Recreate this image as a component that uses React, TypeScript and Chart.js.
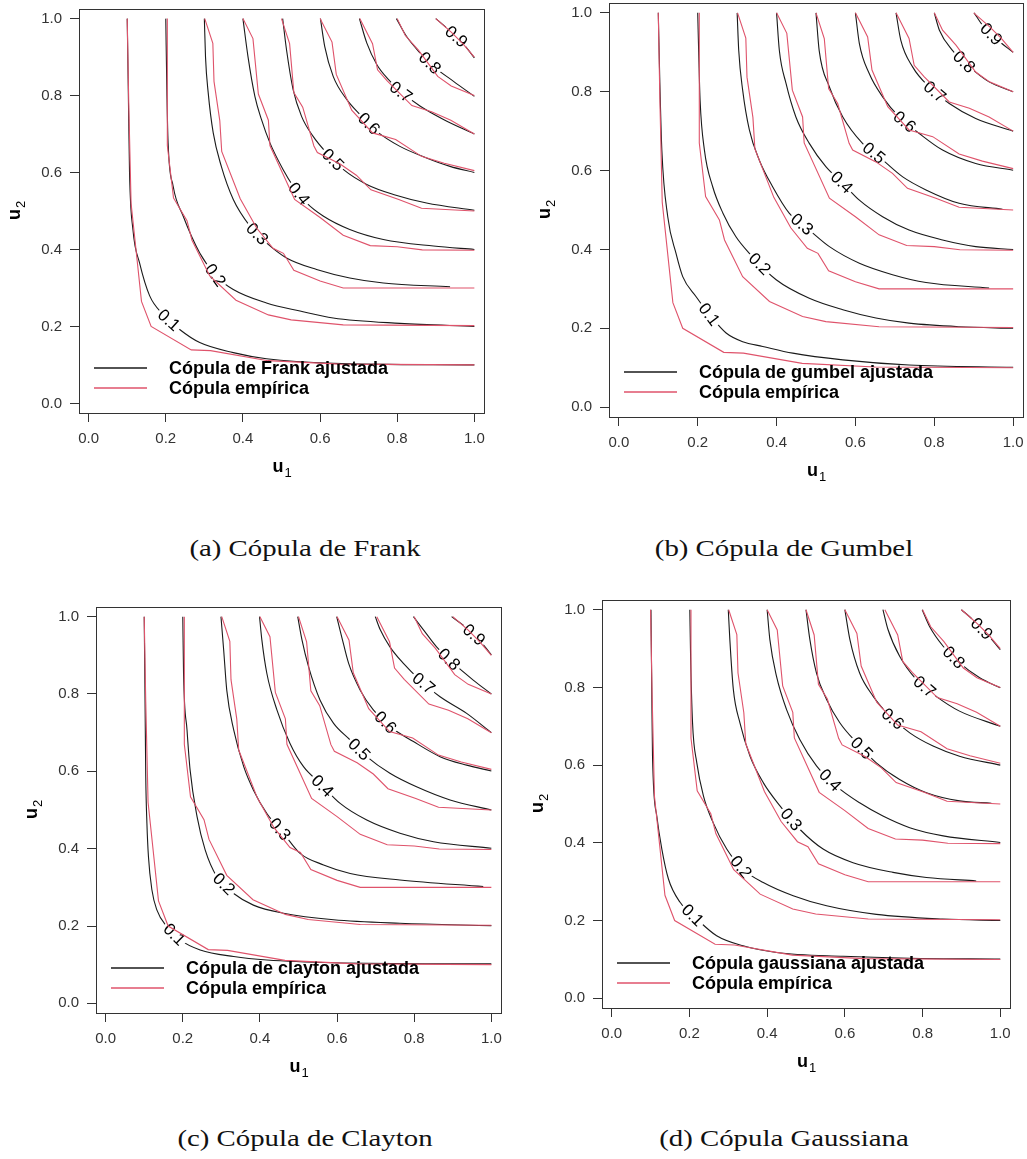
import React, { useEffect, useRef } from "react";
import { Chart, registerables } from "chart.js";

Chart.register(...registerables);

// ---------- data ----------
const levelLabels = ["0.1", "0.2", "0.3", "0.4", "0.5", "0.6", "0.7", "0.8", "0.9"];
const tickValues = [0, 0.2, 0.4, 0.6, 0.8, 1.0];
const tickLabels = ["0.0", "0.2", "0.4", "0.6", "0.8", "1.0"];

// empirical copula contours (same sample in all four panels)
const empiricalCurves = [
  [[0.1, 1.0], [0.104, 0.78], [0.11, 0.52], [0.137, 0.265], [0.162, 0.2], [0.266, 0.139], [0.316, 0.137], [0.465, 0.111], [0.65, 0.102], [1.0, 0.1]],
  [[0.204, 1.0], [0.204, 0.67], [0.22, 0.534], [0.255, 0.475], [0.268, 0.424], [0.314, 0.331], [0.382, 0.268], [0.466, 0.23], [0.525, 0.217], [0.66, 0.204], [1.0, 0.202]],
  [[0.301, 1.0], [0.322, 0.936], [0.325, 0.837], [0.34, 0.735], [0.345, 0.655], [0.393, 0.532], [0.436, 0.455], [0.478, 0.403], [0.505, 0.39], [0.532, 0.346], [0.6, 0.318], [0.66, 0.3], [1.0, 0.3]],
  [[0.4, 1.0], [0.426, 0.948], [0.44, 0.804], [0.466, 0.736], [0.47, 0.67], [0.534, 0.53], [0.6, 0.483], [0.66, 0.437], [0.73, 0.41], [0.8, 0.407], [0.865, 0.399], [1.0, 0.398]],
  [[0.5, 1.0], [0.521, 0.935], [0.532, 0.808], [0.555, 0.77], [0.584, 0.669], [0.593, 0.652], [0.652, 0.622], [0.694, 0.593], [0.732, 0.555], [0.804, 0.53], [0.863, 0.507], [1.0, 0.5]],
  [[0.6, 1.0], [0.631, 0.939], [0.642, 0.855], [0.682, 0.762], [0.736, 0.703], [0.796, 0.686], [0.863, 0.642], [0.922, 0.624], [1.0, 0.605]],
  [[0.703, 1.0], [0.736, 0.935], [0.749, 0.867], [0.774, 0.838], [0.838, 0.774], [0.889, 0.758], [0.939, 0.736], [1.0, 0.7]],
  [[0.8, 1.0], [0.821, 0.956], [0.855, 0.918], [0.905, 0.85], [0.94, 0.825], [1.0, 0.8]],
  [[0.9, 1.0], [0.94, 0.965], [0.97, 0.935], [1.0, 0.9]],
];

const frankCurves = [
  [[0.1, 1.0], [0.103, 0.8], [0.106, 0.6], [0.115, 0.45], [0.132, 0.365], [0.158, 0.28], [0.193, 0.231], [0.236, 0.192], [0.288, 0.158], [0.375, 0.132], [0.461, 0.116], [0.634, 0.104], [1.0, 0.1]],
  [[0.2, 1.0], [0.203, 0.8], [0.206, 0.677], [0.219, 0.565], [0.245, 0.487], [0.288, 0.391], [0.331, 0.331], [0.375, 0.296], [0.461, 0.261], [0.548, 0.24], [0.634, 0.222], [0.807, 0.208], [1.0, 0.2]],
  [[0.3, 1.0], [0.303, 0.9], [0.31, 0.807], [0.323, 0.703], [0.344, 0.616], [0.375, 0.53], [0.418, 0.461], [0.461, 0.417], [0.513, 0.378], [0.591, 0.348], [0.677, 0.326], [0.764, 0.313], [0.937, 0.303]],
  [[0.4, 1.0], [0.413, 0.902], [0.431, 0.798], [0.448, 0.738], [0.47, 0.677], [0.504, 0.608], [0.53, 0.565], [0.565, 0.521], [0.608, 0.487], [0.677, 0.452], [0.764, 0.426], [0.894, 0.409], [1.0, 0.4]],
  [[0.503, 1.0], [0.513, 0.919], [0.53, 0.816], [0.552, 0.746], [0.582, 0.694], [0.617, 0.651], [0.66, 0.608], [0.721, 0.569], [0.79, 0.543], [0.876, 0.521], [1.0, 0.502]],
  [[0.601, 1.0], [0.612, 0.928], [0.634, 0.85], [0.669, 0.79], [0.703, 0.751], [0.747, 0.707], [0.807, 0.668], [0.876, 0.638], [0.937, 0.616], [1.0, 0.6]],
  [[0.702, 1.0], [0.721, 0.937], [0.747, 0.881], [0.777, 0.842], [0.807, 0.812], [0.859, 0.773], [0.92, 0.738], [1.0, 0.7]],
  [[0.798, 1.0], [0.824, 0.954], [0.859, 0.911], [0.894, 0.876], [0.946, 0.837], [1.0, 0.798]],
  [[0.9, 1.0], [0.928, 0.976], [0.963, 0.945], [1.0, 0.898]],
];

const gumbelCurves = [
  [[0.1, 1.0], [0.104, 0.82], [0.109, 0.652], [0.124, 0.483], [0.145, 0.39], [0.162, 0.331], [0.196, 0.28], [0.232, 0.232], [0.272, 0.188], [0.314, 0.166], [0.365, 0.154], [0.441, 0.137], [0.568, 0.12], [0.736, 0.107], [1.0, 0.101]],
  [[0.2, 1.0], [0.203, 0.88], [0.206, 0.779], [0.217, 0.652], [0.238, 0.559], [0.264, 0.492], [0.297, 0.432], [0.331, 0.39], [0.399, 0.323], [0.483, 0.276], [0.568, 0.247], [0.652, 0.226], [0.736, 0.213], [0.863, 0.204], [1.0, 0.2]],
  [[0.3, 1.0], [0.304, 0.905], [0.314, 0.804], [0.331, 0.703], [0.356, 0.627], [0.39, 0.559], [0.432, 0.492], [0.483, 0.449], [0.534, 0.407], [0.61, 0.365], [0.694, 0.336], [0.779, 0.316], [0.939, 0.302]],
  [[0.4, 1.0], [0.407, 0.905], [0.424, 0.821], [0.449, 0.736], [0.483, 0.669], [0.525, 0.61], [0.568, 0.568], [0.61, 0.525], [0.669, 0.483], [0.736, 0.449], [0.821, 0.424], [0.905, 0.407], [1.0, 0.4]],
  [[0.5, 1.0], [0.508, 0.905], [0.534, 0.812], [0.568, 0.736], [0.618, 0.669], [0.669, 0.627], [0.72, 0.584], [0.779, 0.551], [0.863, 0.517], [0.973, 0.502]],
  [[0.6, 1.0], [0.61, 0.922], [0.635, 0.846], [0.669, 0.787], [0.711, 0.736], [0.762, 0.694], [0.821, 0.652], [0.905, 0.618], [1.0, 0.601]],
  [[0.703, 1.0], [0.715, 0.931], [0.745, 0.863], [0.787, 0.812], [0.838, 0.77], [0.905, 0.732], [1.0, 0.7]],
  [[0.8, 1.0], [0.813, 0.956], [0.846, 0.905], [0.889, 0.863], [0.939, 0.825], [1.0, 0.8]],
  [[0.901, 1.0], [0.922, 0.969], [0.956, 0.935], [1.0, 0.9]],
];

const claytonCurves = [
  [[0.1, 1.0], [0.102, 0.8], [0.104, 0.586], [0.107, 0.466], [0.111, 0.379], [0.12, 0.293], [0.133, 0.241], [0.159, 0.198], [0.193, 0.164], [0.245, 0.138], [0.332, 0.121], [0.418, 0.112], [0.591, 0.105], [1.0, 0.102]],
  [[0.2, 1.0], [0.202, 0.853], [0.211, 0.707], [0.219, 0.603], [0.237, 0.483], [0.258, 0.397], [0.288, 0.328], [0.332, 0.284], [0.383, 0.254], [0.461, 0.233], [0.591, 0.216], [0.763, 0.207], [1.0, 0.201]],
  [[0.299, 1.0], [0.306, 0.914], [0.314, 0.81], [0.332, 0.707], [0.358, 0.612], [0.383, 0.552], [0.418, 0.491], [0.461, 0.44], [0.504, 0.388], [0.565, 0.358], [0.634, 0.336], [0.763, 0.319], [0.979, 0.302]],
  [[0.399, 1.0], [0.405, 0.94], [0.418, 0.853], [0.444, 0.759], [0.478, 0.672], [0.513, 0.612], [0.556, 0.569], [0.608, 0.517], [0.677, 0.474], [0.763, 0.44], [0.85, 0.418], [1.0, 0.401]],
  [[0.498, 1.0], [0.509, 0.94], [0.526, 0.871], [0.556, 0.784], [0.591, 0.724], [0.634, 0.681], [0.677, 0.638], [0.737, 0.595], [0.806, 0.56], [0.893, 0.526], [1.0, 0.5]],
  [[0.599, 1.0], [0.612, 0.948], [0.63, 0.879], [0.66, 0.81], [0.694, 0.759], [0.737, 0.716], [0.798, 0.677], [0.867, 0.638], [0.936, 0.616], [1.0, 0.601]],
  [[0.699, 1.0], [0.712, 0.966], [0.737, 0.922], [0.772, 0.879], [0.815, 0.836], [0.867, 0.793], [0.936, 0.75], [1.0, 0.7]],
  [[0.798, 1.0], [0.824, 0.966], [0.858, 0.922], [0.902, 0.879], [0.953, 0.836], [1.0, 0.8]],
  [[0.897, 1.0], [0.927, 0.978], [0.962, 0.948], [1.0, 0.901]],
];

const gaussianCurves = [
  [[0.101, 1.0], [0.103, 0.8], [0.105, 0.623], [0.116, 0.469], [0.129, 0.384], [0.146, 0.307], [0.176, 0.247], [0.219, 0.204], [0.27, 0.161], [0.338, 0.135], [0.424, 0.118], [0.596, 0.108], [0.767, 0.103], [1.0, 0.101]],
  [[0.201, 1.0], [0.203, 0.88], [0.208, 0.709], [0.219, 0.606], [0.236, 0.521], [0.261, 0.452], [0.296, 0.384], [0.338, 0.332], [0.39, 0.298], [0.467, 0.264], [0.553, 0.238], [0.681, 0.216], [0.852, 0.204], [1.0, 0.2]],
  [[0.3, 1.0], [0.304, 0.923], [0.313, 0.795], [0.33, 0.709], [0.356, 0.623], [0.39, 0.555], [0.433, 0.495], [0.484, 0.435], [0.544, 0.384], [0.621, 0.349], [0.724, 0.324], [0.81, 0.311], [0.938, 0.302]],
  [[0.4, 1.0], [0.407, 0.923], [0.424, 0.829], [0.45, 0.743], [0.484, 0.666], [0.527, 0.598], [0.578, 0.546], [0.638, 0.503], [0.698, 0.469], [0.767, 0.439], [0.853, 0.418], [1.0, 0.401]],
  [[0.5, 1.0], [0.51, 0.923], [0.527, 0.837], [0.553, 0.769], [0.587, 0.709], [0.63, 0.658], [0.681, 0.606], [0.741, 0.563], [0.81, 0.529], [0.895, 0.508], [0.977, 0.502]],
  [[0.6, 1.0], [0.613, 0.923], [0.638, 0.837], [0.673, 0.777], [0.716, 0.726], [0.767, 0.683], [0.827, 0.649], [0.895, 0.623], [1.0, 0.6]],
  [[0.698, 1.0], [0.711, 0.949], [0.741, 0.88], [0.784, 0.82], [0.835, 0.777], [0.895, 0.739], [1.0, 0.7]],
  [[0.799, 1.0], [0.818, 0.957], [0.853, 0.906], [0.895, 0.863], [0.947, 0.825], [1.0, 0.799]],
  [[0.9, 1.0], [0.93, 0.974], [0.964, 0.94], [1.0, 0.897]],
];

// where the level labels sit (data coordinates)
const frankLabelAt = [[0.21, 0.218], [0.336, 0.339], [0.439, 0.443], [0.543, 0.543], [0.638, 0.638], [0.729, 0.729], [0.811, 0.811], [0.885, 0.885], [0.954, 0.954]];
const gumbelLabelAt = [[0.238, 0.242], [0.363, 0.369], [0.47, 0.47], [0.563, 0.568], [0.65, 0.648], [0.728, 0.728], [0.808, 0.808], [0.876, 0.876], [0.946, 0.948]];
const claytonLabelAt = [[0.168, 0.168], [0.313, 0.315], [0.444, 0.444], [0.556, 0.556], [0.661, 0.66], [0.749, 0.75], [0.828, 0.832], [0.893, 0.892], [0.958, 0.957]];
const gaussianLabelAt = [[0.212, 0.217], [0.349, 0.351], [0.463, 0.461], [0.56, 0.559], [0.651, 0.651], [0.737, 0.735], [0.817, 0.816], [0.887, 0.884], [0.954, 0.953]];

const fittedLegend = ["Cópula de Frank ajustada", "Cópula de gumbel ajustada", "Cópula de clayton ajustada", "Cópula gaussiana ajustada"];
const empiricalLegend = "Cópula empírica";
const captions = ["(a) Cópula de Frank", "(b) Cópula de Gumbel", "(c) Cópula de Clayton", "(d) Cópula Gaussiana"];

// ---------- layout / style ----------
const SANS = "'Liberation Sans', Arial, Helvetica, sans-serif";
const SERIF = "'Liberation Serif', 'Times New Roman', serif";
const BLACK = "#1a1a1a";
const RED = "#DF536B";
const Y_AXIS_W = 60;
const X_AXIS_H = 40;

type Layout = { ox: number; oy: number; w: number; h: number; l: number; t: number; r: number; b: number; capX: number; capY: number };
const layouts: Layout[] = [
  { ox: 0, oy: 0, w: 510, h: 500, l: 79, t: 9, r: 484, b: 413, capX: 305, capY: 536 },
  { ox: 510, oy: 0, w: 517, h: 500, l: 99, t: 3, r: 513, b: 417, capX: 784, capY: 536 },
  { ox: 0, oy: 590, w: 510, h: 500, l: 96, t: 17, r: 501, b: 423, capX: 305, capY: 1126 },
  { ox: 510, oy: 590, w: 517, h: 500, l: 92, t: 10, r: 500, b: 418, capX: 784, capY: 1126 },
];
const fittedSets = [frankCurves, gumbelCurves, claytonCurves, gaussianCurves];
const labelSets = [frankLabelAt, gumbelLabelAt, claytonLabelAt, gaussianLabelAt];

const toPts = (c: number[][]) => c.map(([x, y]) => ({ x, y }));

function drawSubLabel(ctx: CanvasRenderingContext2D, main: string, sub: string) {
  ctx.font = `bold 18px ${SANS}`;
  const wm = ctx.measureText(main).width;
  ctx.font = `13px ${SANS}`;
  const ws = ctx.measureText(sub).width;
  const x0 = -(wm + ws) / 2;
  ctx.fillStyle = "#000";
  ctx.textAlign = "left";
  ctx.textBaseline = "alphabetic";
  ctx.font = `bold 18px ${SANS}`;
  ctx.fillText(main, x0, 0);
  ctx.font = `13px ${SANS}`;
  ctx.fillText(sub, x0 + wm + 1, 5);
}

function Panel({ idx }: { idx: number }) {
  const ref = useRef<HTMLCanvasElement>(null);
  const L = layouts[idx];
  useEffect(() => {
    if (!ref.current) return;
    const fitted = fittedSets[idx];
    const labelAt = labelSets[idx];
    const datasets: any[] = [];
    empiricalCurves.forEach((c, i) => {
      datasets.push({
        label: empiricalLegend + " " + levelLabels[i],
        data: toPts(c),
        borderColor: RED,
        borderWidth: 1.1,
        pointRadius: 0,
        tension: 0,
        order: 0,
      });
    });
    fitted.forEach((c, i) => {
      datasets.push({
        label: fittedLegend[idx] + " " + levelLabels[i],
        data: toPts(c),
        borderColor: BLACK,
        borderWidth: 1.1,
        pointRadius: 0,
        cubicInterpolationMode: "monotone",
        order: 1,
        levelText: levelLabels[i],
        labelAt: labelAt[i],
      });
    });

    const decor = {
      id: "decor" + idx,
      afterDatasetDraw(chart: any, args: any) {
        const ds = chart.data.datasets[args.index];
        if (!ds.levelText) return;
        const pts = args.meta.data;
        const px = chart.scales.x.getPixelForValue(ds.labelAt[0]);
        const py = chart.scales.y.getPixelForValue(ds.labelAt[1]);
        let best = { d: Infinity, x: px, y: py, a: Math.PI / 4 };
        for (let i = 0; i < pts.length - 1; i++) {
          const a = pts[i], b = pts[i + 1];
          const dx = b.x - a.x, dy = b.y - a.y;
          const len = dx * dx + dy * dy;
          let t = len > 0 ? ((px - a.x) * dx + (py - a.y) * dy) / len : 0;
          t = Math.max(0, Math.min(1, t));
          const qx = a.x + t * dx, qy = a.y + t * dy;
          const d = (qx - px) ** 2 + (qy - py) ** 2;
          if (d < best.d) best = { d, x: qx, y: qy, a: Math.atan2(dy, dx) };
        }
        const ctx = chart.ctx;
        ctx.save();
        ctx.translate(best.x, best.y);
        ctx.rotate(best.a);
        ctx.font = `17px ${SANS}`;
        const w = ctx.measureText(ds.levelText).width;
        ctx.fillStyle = "#fff";
        ctx.fillRect(-w / 2 - 2, -7, w + 4, 14);
        ctx.fillStyle = "#000";
        ctx.textAlign = "center";
        ctx.textBaseline = "middle";
        ctx.fillText(ds.levelText, 0, 1);
        ctx.restore();
      },
      afterDraw(chart: any) {
        const ctx = chart.ctx;
        const a = chart.chartArea;
        ctx.save();
        ctx.strokeStyle = "#333";
        ctx.lineWidth = 1;
        ctx.strokeRect(Math.round(a.left) + 0.5, Math.round(a.top) + 0.5, Math.round(a.right - a.left), Math.round(a.bottom - a.top));
        // axis titles
        ctx.save();
        ctx.translate((a.left + a.right) / 2, a.bottom + 59);
        drawSubLabel(ctx, "u", "1");
        ctx.restore();
        ctx.save();
        ctx.translate(a.left - 59, (a.top + a.bottom) / 2);
        ctx.rotate(-Math.PI / 2);
        drawSubLabel(ctx, "u", "2");
        ctx.restore();
        // legend
        const lx0 = a.left + 15, lx1 = a.left + 68, tx = a.left + 90;
        const rows = [
          { y: a.bottom - 45, color: BLACK, text: fittedLegend[idx] },
          { y: a.bottom - 25, color: RED, text: empiricalLegend },
        ];
        rows.forEach((row) => {
          ctx.strokeStyle = row.color;
          ctx.lineWidth = 1.5;
          ctx.beginPath();
          ctx.moveTo(lx0, row.y);
          ctx.lineTo(lx1, row.y);
          ctx.stroke();
          ctx.fillStyle = "#000";
          ctx.font = `bold 18px ${SANS}`;
          ctx.textAlign = "left";
          ctx.textBaseline = "middle";
          ctx.fillText(row.text, tx, row.y + 1);
        });
        ctx.restore();
      },
    };

    const axisCommon = (labels: string[]) => ({
      type: "linear" as const,
      min: -0.025,
      max: 1.025,
      afterBuildTicks: (s: any) => {
        s.ticks = tickValues.map((v) => ({ value: v }));
      },
      ticks: {
        autoSkip: false,
        maxRotation: 0,
        padding: 8,
        color: "#333",
        font: { family: SANS, size: 15 },
        callback: (_v: any, i: number) => labels[i],
      },
      grid: { display: true, drawOnChartArea: false, drawTicks: true, tickLength: 9, color: "#333", lineWidth: 1 },
      border: { display: false },
    });

    const chart = new Chart(ref.current, {
      type: "line",
      data: { datasets },
      options: {
        animation: false,
        responsive: false,
        devicePixelRatio: 1,
        events: [],
        layout: { padding: { left: L.l - Y_AXIS_W, top: L.t, right: L.w - L.r, bottom: L.h - L.b - X_AXIS_H } },
        plugins: { legend: { display: false }, tooltip: { enabled: false } },
        scales: {
          x: {
            ...axisCommon(tickLabels),
            position: "bottom",
            afterFit: (s: any) => {
              s.height = X_AXIS_H;
              s.paddingLeft = 0;
              s.paddingRight = 0;
            },
          },
          y: {
            ...axisCommon(tickLabels),
            position: "left",
            afterFit: (s: any) => {
              s.width = Y_AXIS_W;
              s.paddingTop = 0;
              s.paddingBottom = 0;
            },
          },
        },
      } as any,
      plugins: [decor as any],
    });
    return () => chart.destroy();
  }, [idx]);

  return (
    <>
      <canvas
        ref={ref}
        width={L.w}
        height={L.h}
        style={{ position: "absolute", left: L.ox, top: L.oy, width: L.w, height: L.h }}
      />
      <div
        style={{
          position: "absolute",
          left: L.capX - 200,
          top: L.capY,
          width: 400,
          textAlign: "center",
          fontFamily: SERIF,
          fontSize: 24,
          lineHeight: "24px",
          color: "#111",
          whiteSpace: "nowrap",
          transform: "scaleX(1.2)",
        }}
      >
        {captions[idx]}
      </div>
    </>
  );
}

export default function App() {
  return (
    <div style={{ position: "absolute", left: 0, top: 0, width: 1027, height: 1159, background: "#fff", overflow: "hidden" }}>
      {[0, 1, 2, 3].map((i) => (
        <Panel key={i} idx={i} />
      ))}
    </div>
  );
}
